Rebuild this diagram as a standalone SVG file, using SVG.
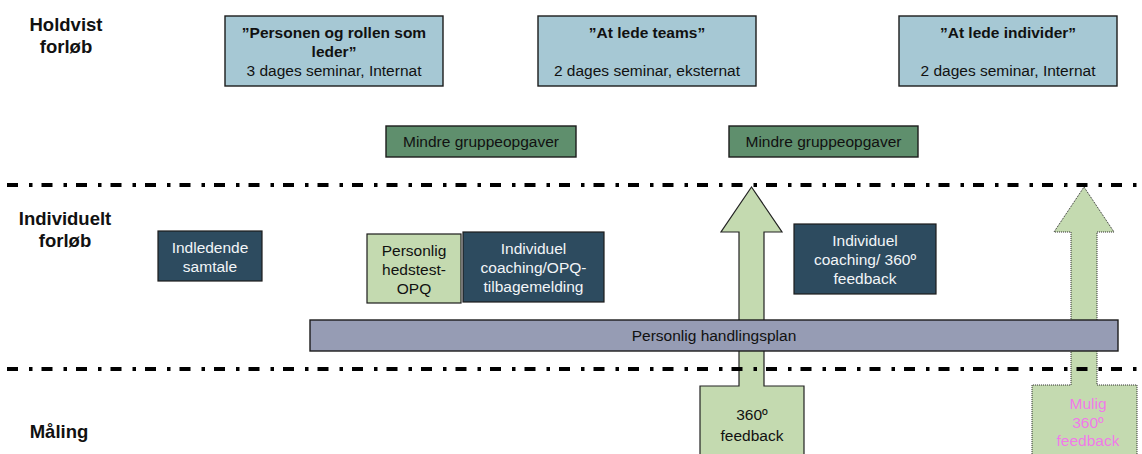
<svg xmlns="http://www.w3.org/2000/svg" width="1142" height="454" viewBox="0 0 1142 454">
  <style>
    text { font-family: "Liberation Sans", Arial, sans-serif; font-size: 15.5px; fill: #111; }
    .lane { font-size: 18.5px; font-weight: bold; text-anchor: middle; }
    .c { text-anchor: middle; }
    .b { font-weight: bold; }
    .light { fill: #f2f5f8; }
    .pink { fill: #f07ae8; }
    .seminar { fill: #a6c8d4; stroke: #1c1c1c; stroke-width: 1.4; }
    .group { fill: #5f8f6d; stroke: #1c1c1c; stroke-width: 1.4; }
    .dark { fill: #2d4b5f; stroke: #1c1c1c; stroke-width: 1.2; }
    .pale { fill: #c4dab0; stroke: #1c1c1c; stroke-width: 1.2; }
    .plan { fill: #969cb4; stroke: #1c1c1c; stroke-width: 1.4; }
    .sep { stroke: #000; stroke-width: 4; stroke-dasharray: 11 11 3.5 9; fill: none; }
    .call-solid { fill: #c4dab0; stroke: #222; stroke-width: 1.2; }
    .call-dotted { fill: #c4dab0; stroke: #222; stroke-width: 1; stroke-dasharray: 1 1; }
  </style>

  <!-- lane headings -->
  <g id="lane-labels">
    <text class="lane" x="66" y="31">Holdvist</text>
    <text class="lane" x="66" y="53">forløb</text>
    <text class="lane" x="65" y="225">Individuelt</text>
    <text class="lane" x="65" y="247">forløb</text>
    <text class="lane" x="59" y="438">Måling</text>
  </g>

  <!-- seminars -->
  <g id="seminar-1">
    <rect class="seminar" x="225" y="16" width="218" height="70"/>
    <text class="c b" x="334" y="38">”Personen og rollen som</text>
    <text class="c b" x="334" y="57">leder”</text>
    <text class="c" x="334" y="76">3 dages seminar, Internat</text>
  </g>
  <g id="seminar-2">
    <rect class="seminar" x="538" y="16" width="218" height="70"/>
    <text class="c b" x="647" y="38">”At lede teams”</text>
    <text class="c" x="647" y="76">2 dages seminar, eksternat</text>
  </g>
  <g id="seminar-3">
    <rect class="seminar" x="899" y="16" width="218" height="70"/>
    <text class="c b" x="1008" y="38">”At lede individer”</text>
    <text class="c" x="1008" y="76">2 dages seminar, Internat</text>
  </g>

  <!-- group work -->
  <g id="group-work-1">
    <rect class="group" x="386" y="126" width="190" height="31"/>
    <text class="c" x="481" y="147">Mindre gruppeopgaver</text>
  </g>
  <g id="group-work-2">
    <rect class="group" x="729" y="126" width="189" height="31"/>
    <text class="c" x="823.5" y="147">Mindre gruppeopgaver</text>
  </g>

  <!-- 360 feedback callouts -->
  <g id="feedback-360">
    <path class="call-solid" d="M751.5,187 L782,232 L764,232 L764,386 L804,386 L804,460 L700,460 L700,386 L739,386 L739,232 L721,232 Z"/>
    <text class="c" x="752" y="420">360º</text>
    <text class="c" x="752" y="441">feedback</text>
  </g>
  <g id="feedback-360-optional">
    <path class="call-dotted" d="M1084,187 L1114,232 L1097,232 L1097,385 L1137,385 L1137,460 L1032,460 L1032,385 L1071,385 L1071,232 L1054,232 Z"/>
    <text class="c pink" x="1088" y="409">Mulig</text>
    <text class="c pink" x="1088" y="428">360º</text>
    <text class="c pink" x="1088" y="446">feedback</text>
  </g>

  <!-- individual track -->
  <g id="intro-talk">
    <rect class="dark" x="158" y="231" width="104" height="50"/>
    <text class="c light" x="210" y="253">Indledende</text>
    <text class="c light" x="210" y="272">samtale</text>
  </g>
  <g id="personality-test">
    <rect class="pale" x="367" y="234" width="94" height="69"/>
    <text class="c" x="414" y="256">Personlig</text>
    <text class="c" x="414" y="275">hedstest-</text>
    <text class="c" x="414" y="294">OPQ</text>
  </g>
  <g id="coaching-opq">
    <rect class="dark" x="463" y="232" width="141" height="70"/>
    <text class="c light" x="533.5" y="254">Individuel</text>
    <text class="c light" x="533.5" y="273">coaching/OPQ-</text>
    <text class="c light" x="533.5" y="292">tilbagemelding</text>
  </g>
  <g id="coaching-360">
    <rect class="dark" x="794" y="224" width="142" height="70"/>
    <text class="c light" x="865" y="246">Individuel</text>
    <text class="c light" x="865" y="265">coaching/ 360º</text>
    <text class="c light" x="865" y="284">feedback</text>
  </g>

  <!-- action plan bar -->
  <g id="action-plan">
    <rect class="plan" x="310" y="320" width="808" height="31"/>
    <text class="c" x="714" y="341">Personlig handlingsplan</text>
  </g>

  <!-- lane separators -->
  <g id="separators">
    <line class="sep" x1="7" y1="185" x2="1142" y2="185"/>
    <line class="sep" x1="7" y1="369" x2="1142" y2="369"/>
  </g>
</svg>
